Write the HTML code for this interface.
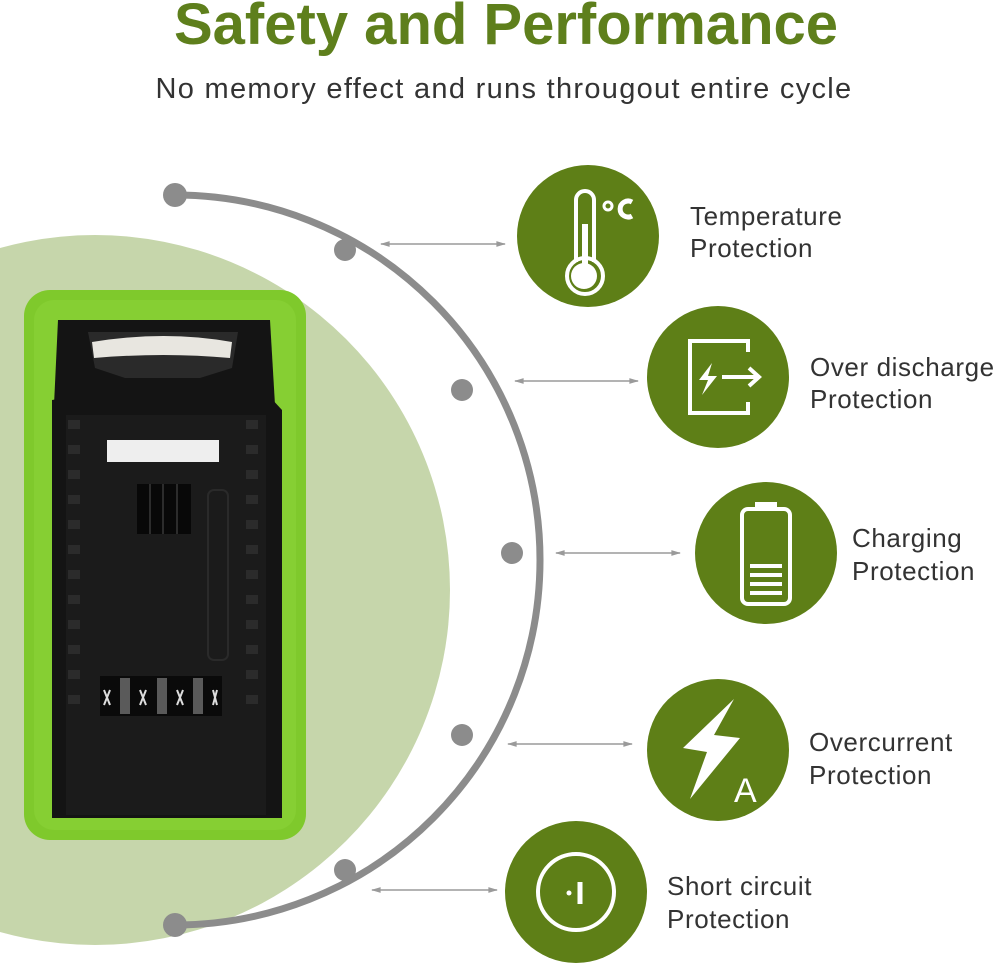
<!DOCTYPE html>
<html><head><meta charset="utf-8"><style>
html,body{margin:0;padding:0;background:#fff;}
svg{display:block}
text{font-family:"Liberation Sans",sans-serif}
</style></head><body>
<svg width="1000" height="967" viewBox="0 0 1000 967" xmlns="http://www.w3.org/2000/svg">
<defs>
<marker id="ah" viewBox="0 0 10 10" refX="9" refY="5" markerWidth="8" markerHeight="6" orient="auto-start-reverse"><path d="M0,2 L10,5 L0,8 z" fill="#9a9a9a"/></marker>
</defs>
<rect width="1000" height="967" fill="#fff"/>
<circle cx="95" cy="590" r="355" fill="#c6d6ab"/>
<text x="506" y="44" text-anchor="middle" font-size="58" font-weight="bold" fill="#5e7f1c">Safety and Performance</text>
<text x="504" y="98" text-anchor="middle" font-size="29" fill="#333" letter-spacing="1.3">No memory effect and runs througout entire cycle</text>

<!-- battery -->
<rect x="24" y="290" width="282" height="550" rx="26" fill="#7fc92c"/>
<rect x="34" y="300" width="262" height="530" rx="20" fill="#86cf33"/>
<path d="M58,320 L270,320 L275,405 L54,405 z" fill="#141414"/>
<path d="M88,332 L238,332 L232,368 L200,378 L125,378 L95,368 z" fill="#2a2a2a"/>
<path d="M92,342 Q165,330 232,342 L230,358 Q165,352 94,358 z" fill="#e8e6e0"/>
<path d="M52,400 L70,397 L270,397 L282,410 L282,818 L52,818 z" fill="#141414"/>
<rect x="66" y="415" width="200" height="400" fill="#1b1b1b"/>
<rect x="107" y="440" width="112" height="22" fill="#eeeeee"/>
<rect x="137" y="484" width="54" height="50" fill="#080808"/>
<g stroke="#2c2c2c" stroke-width="2"><line x1="150" y1="484" x2="150" y2="534"/><line x1="163" y1="484" x2="163" y2="534"/><line x1="177" y1="484" x2="177" y2="534"/></g>
<rect x="208" y="490" width="20" height="170" rx="6" fill="none" stroke="#2a2a2a" stroke-width="2"/>
<g fill="#2b2b2b">
<rect x="68" y="420" width="12" height="9"/><rect x="68" y="445" width="12" height="9"/><rect x="68" y="470" width="12" height="9"/><rect x="68" y="495" width="12" height="9"/><rect x="68" y="520" width="12" height="9"/><rect x="68" y="545" width="12" height="9"/><rect x="68" y="570" width="12" height="9"/><rect x="68" y="595" width="12" height="9"/><rect x="68" y="620" width="12" height="9"/><rect x="68" y="645" width="12" height="9"/><rect x="68" y="670" width="12" height="9"/><rect x="68" y="695" width="12" height="9"/>
<rect x="246" y="420" width="12" height="9"/><rect x="246" y="445" width="12" height="9"/><rect x="246" y="470" width="12" height="9"/><rect x="246" y="495" width="12" height="9"/><rect x="246" y="520" width="12" height="9"/><rect x="246" y="545" width="12" height="9"/><rect x="246" y="570" width="12" height="9"/><rect x="246" y="595" width="12" height="9"/><rect x="246" y="620" width="12" height="9"/><rect x="246" y="645" width="12" height="9"/><rect x="246" y="670" width="12" height="9"/><rect x="246" y="695" width="12" height="9"/>
</g>
<rect x="100" y="676" width="122" height="40" fill="#0a0a0a"/>
<g fill="#5a5a5a"><rect x="120" y="678" width="10" height="36"/><rect x="157" y="678" width="10" height="36"/><rect x="193" y="678" width="10" height="36"/></g>
<g stroke="#ddd" stroke-width="2"><path d="M104,690 L110,705 M110,690 L104,705"/><path d="M140,690 L146,705 M146,690 L140,705"/><path d="M177,690 L183,705 M183,690 L177,705"/><path d="M213,690 L217,705 M217,690 L213,705"/></g>

<!-- arc -->
<path d="M175,195 A359,359 0 0 1 175,925" fill="none" stroke="#8c8c8c" stroke-width="7"/>
<g fill="#8c8c8c">
<circle cx="175" cy="195" r="12"/><circle cx="175" cy="925" r="12"/>
<circle cx="345" cy="250" r="11"/><circle cx="462" cy="390" r="11"/><circle cx="512" cy="553" r="11"/><circle cx="462" cy="735" r="11"/><circle cx="345" cy="870" r="11"/>
</g>
<g stroke="#9a9a9a" stroke-width="1.6" marker-start="url(#ah)" marker-end="url(#ah)">
<line x1="381" y1="244" x2="505" y2="244"/>
<line x1="515" y1="381" x2="638" y2="381"/>
<line x1="556" y1="553" x2="680" y2="553"/>
<line x1="508" y1="744" x2="632" y2="744"/>
<line x1="372" y1="890" x2="497" y2="890"/>
</g>

<!-- icon circles -->
<g fill="#5e7f17">
<circle cx="588" cy="236" r="71"/><circle cx="718" cy="377" r="71"/><circle cx="766" cy="553" r="71"/><circle cx="718" cy="750" r="71"/><circle cx="576" cy="892" r="71"/>
</g>
<g fill="none" stroke="#fff" stroke-width="4">
<path d="M576,262 L576,200 A9,9 0 0 1 594,200 L594,262"/>
<circle cx="585" cy="276" r="18" fill="none"/>
<circle cx="584" cy="276" r="13" fill="#fff" stroke="none"/>
<line x1="585" y1="224" x2="585" y2="270" stroke-width="6"/>
<circle cx="608" cy="206" r="4" stroke-width="3"/>
<path d="M632,202 A8,8 0 1 0 632,216" stroke-width="5"/>
<path d="M748,352 L748,341 L690,341 L690,413 L748,413 L748,402"/>
<line x1="722" y1="377" x2="758" y2="377"/><path d="M749,368 L759,377 L749,386"/>
<rect x="742" y="509" width="48" height="95" rx="6"/>
<rect x="755" y="502" width="22" height="6" fill="#fff" stroke="none"/>
<g stroke-width="4"><line x1="750" y1="566" x2="782" y2="566"/><line x1="750" y1="575" x2="782" y2="575"/><line x1="750" y1="584" x2="782" y2="584"/><line x1="750" y1="593" x2="782" y2="593"/></g>
<circle cx="576" cy="892" r="38"/>
<line x1="580" y1="882" x2="580" y2="904" stroke-width="5"/>
</g>
<circle cx="569" cy="893" r="2.5" fill="#fff"/>
<path d="M734,699 L683,748 L707,752 L690,799 L740,738 L714,735 Z" fill="#fff"/>
<text x="734" y="802" font-size="34" fill="#fff">A</text>
<path d="M712,363 L699,380 L708,380 L702,395 L717,376 L708,376 Z" fill="#fff"/>

<!-- labels -->
<g font-size="26" fill="#333" letter-spacing="0.6">
<text x="690" y="225">Temperature</text><text x="690" y="257">Protection</text>
<text x="810" y="376">Over discharge</text><text x="810" y="408">Protection</text>
<text x="852" y="547">Charging</text><text x="852" y="580">Protection</text>
<text x="809" y="751">Overcurrent</text><text x="809" y="784">Protection</text>
<text x="667" y="895">Short circuit</text><text x="667" y="928">Protection</text>
</g>
</svg>
</body></html>
